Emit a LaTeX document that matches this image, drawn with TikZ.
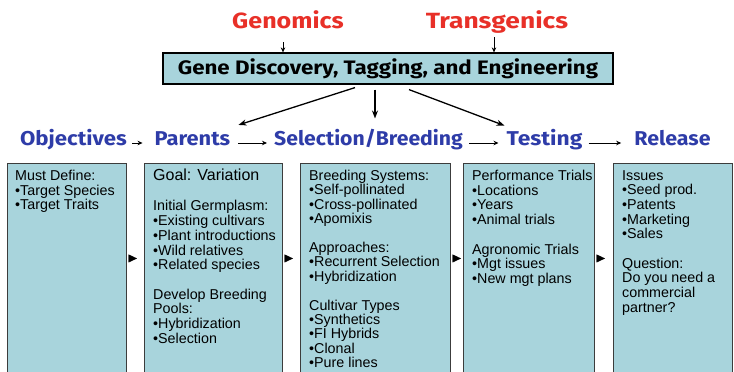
\documentclass[tikz,border=0pt]{standalone}
\usepackage{graphicx}
\usepackage{fontspec}
\setmainfont{Liberation Sans}
\newfontfamily\headfont{Fira Sans}
\usetikzlibrary{arrows.meta}
\definecolor{headred}{RGB}{232,48,40}
\definecolor{headblue}{RGB}{46,60,168}
\definecolor{boxfill}{RGB}{168,212,220}
\definecolor{boxline}{RGB}{60,60,60}
% widen a heading horizontally without changing its height
\newcommand{\widehead}[2]{\scalebox{#1}[1]{#2}}
\begin{document}
\begin{tikzpicture}[x=1pt,y=-1pt,
  redhead/.style={inner sep=0, anchor=base, text=headred,
    font=\headfont\bfseries\fontsize{22}{24}\selectfont},
  stagehead/.style={inner sep=0, anchor=base, text=headblue,
    font=\headfont\bfseries\fontsize{20}{22}\selectfont},
  genebox/.style={draw=black, line width=1.2pt, fill=boxfill,
    minimum width=450pt, minimum height=31pt, inner sep=0,
    font=\headfont\bfseries\fontsize{19.5}{22}\selectfont},
  stagebox/.style={draw=boxline, line width=0.9pt, fill=boxfill,
    anchor=north west, minimum height=220pt, inner sep=0},
  boxtext/.style={anchor=north west, inner sep=0, align=left,
    font=\fontsize{14.3}{14.7}\selectfont},
  thinarrow/.style={line width=0.8pt, -{Stealth[length=5pt,width=4.5pt]}},
  genearrow/.style={line width=1.3pt, -{Stealth[length=8pt,width=6pt]}},
  boxarrow/.style={line width=0.3pt, -{Triangle[length=8.5pt,width=8pt]}}
]
\clip (0,0) rectangle (734,372);
\fill[white] (0,0) rectangle (734,372);

% top inputs and the central engineering box
\node[redhead] (gen) at (288,28) {\widehead{1.14}{Genomics}};
\node[redhead] (trans) at (497,28) {\widehead{1.2}{Transgenics}};
\node[genebox] (gene) at (388,68.5) {\widehead{1.145}{Gene Discovery, Tagging, and Engineering}};

\draw[thinarrow] ([xshift=-5pt,yshift=-14pt]gen.base) -- ([xshift=-105pt]gene.north);
\draw[thinarrow] ([xshift=-3pt,yshift=-9pt]trans.base) -- ([xshift=106pt]gene.north);

% stage headings
\node[stagehead] (obj) at (73.5,145) {\widehead{1.11}{Objectives}};
\node[stagehead] (par) at (192.5,145) {\widehead{1.09}{Parents}};
\node[stagehead] (sel) at (368.5,145) {\widehead{1.06}{Selection/Breeding}};
\node[stagehead] (test) at (544.5,145) {\widehead{1.14}{Testing}};
\node[stagehead] (rel) at (672.5,145) {\widehead{1.07}{Release}};

\draw[thinarrow, shorten <=5pt, shorten >=12pt] ([yshift=2pt]obj.base east) -- ([yshift=2pt]par.base west);
\draw[thinarrow, shorten <=8pt, shorten >=7pt] ([yshift=2pt]par.base east) -- ([yshift=2pt]sel.base west);
\draw[thinarrow, shorten <=6pt, shorten >=8pt] ([yshift=2pt]sel.base east) -- ([yshift=2pt]test.base west);
\draw[thinarrow, shorten <=6pt, shorten >=13pt] ([yshift=2pt]test.base east) -- ([yshift=2pt]rel.base west);

% engineering feeds three stages
\draw[genearrow] ([xshift=-33pt,yshift=-3pt]gene.south) -- ([xshift=8pt,yshift=6pt]par.north east);
\draw[genearrow] ([xshift=-13pt,yshift=-5pt]gene.south) -- ([xshift=6.5pt,yshift=10pt]sel.north);
\draw[genearrow] ([xshift=21pt,yshift=-5pt]gene.south) -- ([xshift=-2pt,yshift=3pt]test.north west);

% stage boxes
\node[stagebox, minimum width=119pt] (b1) at (7,163) {};
\node[stagebox, minimum width=138pt] (b2) at (144,163) {};
\node[stagebox, minimum width=150pt] (b3) at (300,163) {};
\node[stagebox, minimum width=131pt] (b4) at (463,163) {};
\node[stagebox, minimum width=119pt] (b5) at (613,163) {};

\draw[boxarrow, shorten <=2pt, shorten >=7pt] ([yshift=15pt]b1.east) -- ([yshift=15pt]b2.west);
\draw[boxarrow, shorten <=2pt, shorten >=7pt] ([yshift=15pt]b2.east) -- ([yshift=15pt]b3.west);
\draw[boxarrow, shorten <=3pt, shorten >=2pt] ([yshift=15pt]b3.east) -- ([yshift=15pt]b4.west);
\draw[boxarrow, shorten <=3pt, shorten >=8pt] ([yshift=15pt]b4.east) -- ([yshift=15pt]b5.west);

% box contents
\node[boxtext] (t1) at ([xshift=8pt,yshift=-7pt]b1.north west)
  {Must Define:\\•Target Species\\•Target Traits};
\node[boxtext] (t2) at ([xshift=9pt,yshift=-6pt]b2.north west)
  {{\fontsize{16}{17}\selectfont Goal: Variation}\\[15.5pt]
   Initial Germplasm:\\•Existing cultivars\\•Plant introductions\\•Wild relatives\\•Related species\\[14.7pt]
   Develop Breeding\\Pools:\\•Hybridization\\•Selection};
\node[boxtext, font=\fontsize{14.3}{14.4}\selectfont] (t3) at ([xshift=9pt,yshift=-7pt]b3.north west)
  {Breeding Systems:\\•Self-pollinated\\•Cross-pollinated\\•Apomixis\\[14.4pt]
   Approaches:\\•Recurrent Selection\\•Hybridization\\[14.4pt]
   Cultivar Types\\•Synthetics\\•FI Hybrids\\•Clonal\\•Pure lines};
\node[boxtext] (t4) at ([xshift=9pt,yshift=-7pt]b4.north west)
  {Performance Trials\\•Locations\\•Years\\•Animal trials\\[14.7pt]
   Agronomic Trials\\•Mgt issues\\•New mgt plans};
\node[boxtext] (t5) at ([xshift=9pt,yshift=-7pt]b5.north west)
  {Issues\\•Seed prod.\\•Patents\\•Marketing\\•Sales\\[14.7pt]
   Question:\\Do you need a\\commercial\\partner?};
\end{tikzpicture}
\end{document}
